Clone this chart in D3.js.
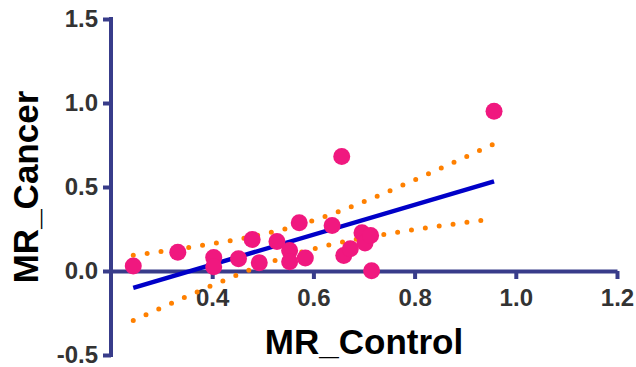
<!DOCTYPE html>
<html>
<head>
<meta charset="utf-8">
<script src="https://cdn.jsdelivr.net/npm/d3@7"></script>
<style>
  html, body { margin: 0; padding: 0; background: #fff; }
  svg { display: block; font-family: Arial, "Liberation Sans", sans-serif; }
</style>
</head>
<body>
<svg id="chart" width="636" height="367"></svg>
<script>
// MR values
const mrControl = [0.244, 0.332, 0.403, 0.403, 0.452, 0.479, 0.493, 0.528, 0.553, 0.553, 0.584,
                   0.572, 0.637, 0.656, 0.660, 0.673, 0.696, 0.702, 0.713, 0.715, 0.957];
const mrCancer  = [0.030, 0.112, 0.080, 0.025, 0.073, 0.188, 0.049, 0.176, 0.122, 0.055, 0.078,
                   0.287, 0.271, 0.682, 0.092, 0.132, 0.228, 0.166, 0.211, 0.002, 0.951];
const xTicks = [0.4, 0.6, 0.8, 1.0, 1.2];
const yTicks = [-0.5, 0.0, 0.5, 1.0, 1.5];

const axisColor = "#383c8a";
const svg = d3.select("#chart");

const x = d3.scaleLinear().domain([0.2, 1.2]).range([111, 617]);
const y = d3.scaleLinear().domain([-0.5, 1.5]).range([355, 19]);
const fmt = d => d.toFixed(1);

// y axis
const gy = svg.append("g")
  .attr("transform", "translate(" + x(0.2) + ",0)")
  .call(d3.axisLeft(y).tickValues(yTicks).tickFormat(fmt)
    .tickSizeInner(8).tickSizeOuter(0).tickPadding(5));

// x axis crossing at y = 0
const gx = svg.append("g")
  .attr("transform", "translate(0," + y(0) + ")")
  .call(d3.axisBottom(x).tickValues(xTicks).tickFormat(fmt)
    .tickSizeInner(8).tickSizeOuter(0).tickPadding(10));

[gx, gy].forEach(g => {
  g.select(".domain").attr("stroke", axisColor).attr("stroke-width", 4);
  g.selectAll(".tick line").attr("stroke", axisColor).attr("stroke-width", 4);
  g.selectAll(".tick text")
    .attr("fill", "#333")
    .style("font-size", "24px")
    .style("font-weight", "bold");
});
gy.select(".domain").attr("d", "M0," + (y(-0.5) + 2) + "V" + (y(1.5) - 2));

// axis titles
svg.append("text")
  .attr("x", 364).attr("y", 354)
  .attr("text-anchor", "middle")
  .style("font-size", "35px").style("font-weight", "bold")
  .text("MR_Control");

svg.append("text")
  .attr("transform", "translate(38,187) rotate(-90)")
  .attr("text-anchor", "middle")
  .style("font-size", "35px").style("font-weight", "bold")
  .text("MR_Cancer");

// linear regression with 95% confidence band
const n = mrControl.length;
const mx = d3.mean(mrControl), my = d3.mean(mrCancer);
let sxx = 0, sxy = 0;
for (let i = 0; i < n; i++) {
  sxx += (mrControl[i] - mx) ** 2;
  sxy += (mrControl[i] - mx) * (mrCancer[i] - my);
}
const slope = sxy / sxx;
const intercept = my - slope * mx;
let sse = 0;
for (let i = 0; i < n; i++) sse += (mrCancer[i] - intercept - slope * mrControl[i]) ** 2;
const s = Math.sqrt(sse / (n - 2));
const tCrit = 2.093; // t(0.975, 19)

const [xMin, xMax] = d3.extent(mrControl);
const xs = d3.range(0, 61).map(i => xMin + (xMax - xMin) * i / 60);
const fit = xv => intercept + slope * xv;
const half = xv => tCrit * s * Math.sqrt(1 / n + (xv - mx) ** 2 / sxx);

const line = d3.line().x(d => x(d[0])).y(d => y(d[1]));

[1, -1].forEach(sign => {
  svg.append("path")
    .attr("d", line(xs.map(v => [v, fit(v) + sign * half(v)])))
    .attr("fill", "none")
    .attr("stroke", "#ff8000")
    .attr("stroke-width", 5)
    .attr("stroke-linecap", "round")
    .attr("stroke-dasharray", "0 14");
});

svg.append("path")
  .attr("d", line([[xMin, fit(xMin)], [xMax, fit(xMax)]]))
  .attr("stroke", "#0000c8")
  .attr("stroke-width", 4.5);

// points
svg.append("g").selectAll("circle")
  .data(mrControl.map((v, i) => [v, mrCancer[i]]))
  .enter()
  .append("circle")
  .attr("cx", d => x(d[0]))
  .attr("cy", d => y(d[1]))
  .attr("r", 8.5)
  .attr("fill", "#f0187f");
</script>
</body>
</html>
